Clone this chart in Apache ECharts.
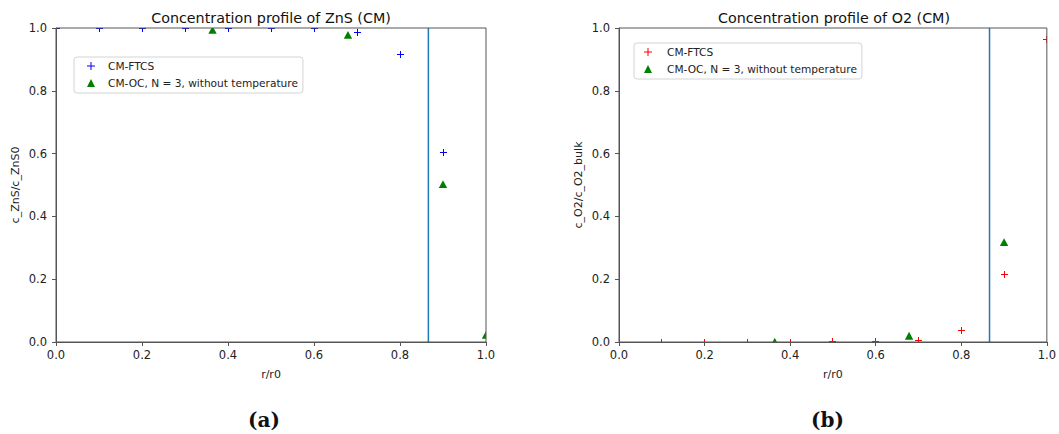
<!DOCTYPE html>
<html>
<head>
<meta charset="utf-8">
<script src="https://cdn.jsdelivr.net/npm/echarts@6/dist/echarts.min.js"></script>
<style>
  html, body { margin: 0; padding: 0; background: #fff; }
  #chart { width: 1059px; height: 434px; }
</style>
</head>
<body>
<div id="chart"></div>
<script>
// Radial positions (r/r0) of the finite-difference (FTCS) grid
const ftcsR = [0.0, 0.1, 0.2, 0.3, 0.4, 0.5, 0.6, 0.7, 0.8, 0.9, 1.0];
// ZnS concentration, c_ZnS/c_ZnS0, from FTCS
const znsFtcs = [1.0, 1.0, 1.0, 1.0, 1.0, 1.0, 0.998, 0.985, 0.916, 0.602, 0.0];
// O2 concentration, c_O2/c_O2_bulk, from FTCS
const o2Ftcs = [0.0, 0.0, 0.0, 0.0, 0.0, 0.002, 0.002, 0.006, 0.038, 0.214, 0.962];

// Orthogonal collocation points and results (N = 3)
const ocRZns = [0.364, 0.679, 0.9, 1.0];
const znsOc = [0.993, 0.977, 0.502, 0.022];
const ocRO2 = [0.364, 0.678, 0.9];
const o2Oc = [0.0, 0.019, 0.317];

// Reaction-front position drawn as a vertical line
const frontR = [0.866];

const NAME_FTCS = 'CM-FTCS';
const NAME_OC = 'CM-OC, N = 3, without temperature';
const PLUS_ICON = 'path://M3.5,0H4.5V3.5H8V4.5H4.5V8H3.5V4.5H0V3.5H3.5Z';

const zip = (xs, ys) => xs.map((x, i) => [x, ys[i]]);

// Markers are cut at the plot frame, so points on the border show only their inner part.
function clipPolygon(pts, r) {
  const edges = [
    [p => p[0] >= r.x, (a, b) => lerpAt(a, b, 0, r.x)],
    [p => p[0] <= r.x + r.width, (a, b) => lerpAt(a, b, 0, r.x + r.width)],
    [p => p[1] >= r.y, (a, b) => lerpAt(a, b, 1, r.y)],
    [p => p[1] <= r.y + r.height, (a, b) => lerpAt(a, b, 1, r.y + r.height)]
  ];
  let out = pts;
  for (const [inside, cut] of edges) {
    const src = out; out = [];
    for (let i = 0; i < src.length; i++) {
      const cur = src[i], prev = src[(i + src.length - 1) % src.length];
      const ci = inside(cur), pi = inside(prev);
      if (ci) { if (!pi) out.push(cut(prev, cur)); out.push(cur); }
      else if (pi) out.push(cut(prev, cur));
    }
    if (!out.length) break;
  }
  return out;
}
function lerpAt(a, b, k, v) {
  const t = (v - a[k]) / (b[k] - a[k]);
  return [a[0] + t * (b[0] - a[0]), a[1] + t * (b[1] - a[1])];
}

// '+' marker: a thin cross polygon snapped to whole pixels, cut to the plot area
function plusRenderer(color) {
  return function (params, api) {
    const r = params.coordSys;
    const p = api.coord([api.value(0), api.value(1)]);
    const cx = Math.floor(p[0]) + 0.5, cy = Math.floor(p[1]) + 0.5;
    const h = 3.5, t = 0.5;
    const arms = [
      [[cx - h, cy - t], [cx + h, cy - t], [cx + h, cy + t], [cx - h, cy + t]],
      [[cx - t, cy - h], [cx + t, cy - h], [cx + t, cy + h], [cx - t, cy + h]]
    ];
    const kids = [];
    arms.forEach(a => {
      const pts = clipPolygon(a, r);
      if (pts.length >= 3) kids.push({ type: 'polygon', shape: { points: pts }, style: { fill: color } });
    });
    return { type: 'group', children: kids };
  };
}

function triangleRenderer(color) {
  return function (params, api) {
    const r = params.coordSys;
    const p = api.coord([api.value(0), api.value(1)]);
    const pts = clipPolygon([[p[0], p[1] - 4.2], [p[0] + 4.2, p[1] + 3.6], [p[0] - 4.2, p[1] + 3.6]], r);
    const kids = pts.length >= 3 ? [{ type: 'polygon', shape: { points: pts }, style: { fill: color } }] : [];
    return { type: 'group', children: kids };
  };
}

const FONT = 'DejaVu Sans';
const grids = [
  { left: 56, top: 28, width: 430, height: 314 },
  { left: 619, top: 28, width: 431, height: 314 }
];

function xAxis(gi) {
  return {
    type: 'value', gridIndex: gi, min: 0, max: 1, interval: 0.2, z: 4,
    name: 'r/r0', nameLocation: 'middle', nameGap: 27,
    nameTextStyle: { fontFamily: FONT, fontSize: 11, color: '#222' },
    axisLine: { show: true, onZero: false, lineStyle: { color: '#555', width: 1 } },
    axisTick: { show: true, length: 4, lineStyle: { color: '#555' } },
    axisLabel: { fontFamily: FONT, fontSize: 11.5, color: '#222', margin: 7,
      formatter: v => v.toFixed(1) },
    splitLine: { show: false }
  };
}
function yAxis(gi, name) {
  return {
    type: 'value', gridIndex: gi, min: 0, max: 1, interval: 0.2, z: 4,
    name: name, nameLocation: 'middle', nameGap: 35,
    nameTextStyle: { fontFamily: FONT, fontSize: 11, color: '#222' },
    axisLine: { show: true, onZero: false, lineStyle: { color: '#555', width: 1 } },
    axisTick: { show: true, length: 4, lineStyle: { color: '#555' } },
    axisLabel: { fontFamily: FONT, fontSize: 11.5, color: '#222', margin: 9,
      formatter: v => v.toFixed(1) },
    splitLine: { show: false }
  };
}

function legend(left, top, padLeft, textPad, ftcsColor) {
  return {
    orient: 'vertical', left: left, top: top, z: 6,
    padding: [3, 5, 4, padLeft], itemGap: 5,
    itemWidth: 8, itemHeight: 8,
    backgroundColor: 'rgba(255,255,255,0.8)',
    borderColor: '#d4d4d4', borderWidth: 1, borderRadius: 3,
    textStyle: { fontFamily: FONT, fontSize: 10.6, color: '#222', lineHeight: 12, padding: [0, 0, 0, textPad] },
    selectedMode: false,
    data: [
      { name: NAME_FTCS, icon: PLUS_ICON, itemStyle: { color: ftcsColor } },
      { name: NAME_OC, icon: 'triangle', itemStyle: { color: '#008000' } }
    ]
  };
}

function markerSeries(name, gi, data, color, makeRenderer) {
  return {
    type: 'custom', name: name, xAxisIndex: gi, yAxisIndex: gi, z: 1,
    renderItem: makeRenderer(color), data: data,
    encode: { x: 0, y: 1 }, silent: true,
    itemStyle: { color: color }, animation: false
  };
}
function frontLine(gi) {
  return {
    type: 'line', xAxisIndex: gi, yAxisIndex: gi, showSymbol: false, silent: true, z: 1,
    data: [[frontR[0], 0], [frontR[0], 1]],
    lineStyle: { color: '#1f77b4', width: 1.5 }, animation: false
  };
}

const option = {
  backgroundColor: '#fff',
  animation: false,
  title: [
    { text: 'Concentration profile of ZnS (CM)', left: 266, top: 6, textAlign: 'center',
      textStyle: { fontFamily: FONT, fontSize: 14.3, fontWeight: 'normal', color: '#111' } },
    { text: 'Concentration profile of O2 (CM)', left: 829, top: 6, textAlign: 'center',
      textStyle: { fontFamily: FONT, fontSize: 14.3, fontWeight: 'normal', color: '#111' } }
  ],
  grid: grids.map(g => Object.assign({ show: true, z: 4, borderColor: '#555', borderWidth: 1, backgroundColor: 'transparent' }, g)),
  xAxis: [xAxis(0), xAxis(1)],
  yAxis: [yAxis(0, 'c_ZnS/c_ZnS0'), yAxis(1, 'c_O2/c_O2_bulk')],
  legend: [legend(74, 57, 13, 8, '#0000ff'), legend(634, 43, 10, 10, '#ff0000')],
  graphic: [
    { type: 'text', left: 248, top: 410, style: { text: '(a)', fontFamily: 'DejaVu Serif', fontWeight: 'bold', fontSize: 20, fill: '#111' } },
    { type: 'text', left: 811, top: 410, style: { text: '(b)', fontFamily: 'DejaVu Serif', fontWeight: 'bold', fontSize: 20, fill: '#111' } }
  ],
  series: [
    markerSeries(NAME_FTCS, 0, zip(ftcsR, znsFtcs), '#0000ff', plusRenderer),
    markerSeries(NAME_OC, 0, zip(ocRZns, znsOc), '#008000', triangleRenderer),
    frontLine(0),
    markerSeries(NAME_FTCS, 1, zip(ftcsR, o2Ftcs), '#ff0000', plusRenderer),
    markerSeries(NAME_OC, 1, zip(ocRO2, o2Oc), '#008000', triangleRenderer),
    frontLine(1)
  ]
};

const chart = echarts.init(document.getElementById('chart'), null, { renderer: 'svg' });
chart.setOption(option);
</script>
</body>
</html>
